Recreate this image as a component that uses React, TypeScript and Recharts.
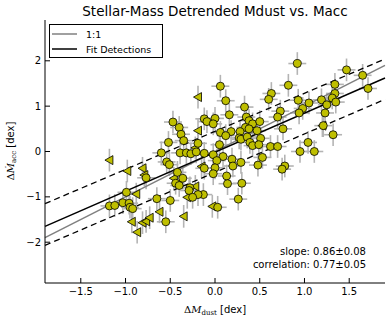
import React from "react";
import { ScatterChart, Scatter, XAxis, YAxis, ErrorBar, ReferenceLine } from "recharts";

// detections: dust mass offset vs accretion rate offset (dex)
const detX = [
  0.92, 1.47, 1.65, 1.71, 0.06, 0.82, 0.63, 0.6, 1.34, 1.34, 1.31, 1.19, 1.25, 1.35, 0.93, 1.05, 0.98, 0.94,
  1.23, 0.73, 0.7, 0.12, 0.16, 0.33, -0.12, -0.09, 0.0, -0.02, 0.35, 0.38, 0.42, 0.5, 0.34, 0.38, 0.47, 0.28,
  0.18, 0.06, 0.76, 1.21, 1.32, 0.27, 0.29, 0.36, 0.51, 0.39, 0.42, 0.49, 0.62, 0.7, 0.12, 0.05, 1.04, 0.95,
  1.11, -0.12, -0.02, 0.09, 0.19, 0.29, 0.53, 0.48, 0.78, 0.75, 0.02, 0.2, 0.0, -0.12, -0.02, 0.13, 0.14, 0.3,
  -0.13, 0.26, 0.03, -0.47, -0.4, -0.38, -0.35, -0.52, -0.19, -0.6, -0.54, -0.51, -0.39, -0.32, -0.27, -0.21,
  -0.42, -0.44, -0.4, -0.28, -0.29, -0.19, -0.5, -0.65, -0.77, -0.55, -0.99, -1.18, -1.12, -1.03, -0.96, -0.95,
  -0.92, -0.36, -0.25,
];
const detY = [
  1.94, 1.8, 1.68, 1.39, 1.44, 1.46, 1.28, 1.15, 1.48, 1.28, 1.18, 1.14, 1.03, 1.09, 1.13, 1.07, 0.95, 0.85,
  0.85, 0.89, 0.76, 1.12, 0.81, 0.98, 0.72, 0.66, 0.73, 0.61, 0.76, 0.68, 0.61, 0.66, 0.53, 0.5, 0.46, 0.44,
  0.44, 0.42, 0.5, 0.57, 0.37, 0.3, 0.27, 0.32, 0.29, 0.2, 0.13, 0.15, 0.11, 0.11, 0.35, 0.15, 0.2, 0.0,
  0.0, -0.04, -0.07, -0.11, -0.17, -0.24, -0.13, -0.3, -0.32, -0.39, -0.2, -0.32, -0.36, -0.37, -0.49, -0.54, -0.71, -0.7,
  -0.95, -1.05, -1.23, 0.65, 0.53, 0.38, 0.24, 0.2, 0.18, -0.03, -0.23, -0.29, -0.03, -0.03, -0.05, -0.01,
  -0.46, -0.7, -0.75, -0.8, -0.86, -0.95, -1.08, -1.04, -0.58, -1.55, -0.9, -1.2, -1.19, -1.13, -1.14, -1.23,
  -1.26, -0.59, -1.01,
];

// upper limits in dust mass (left-pointing triangles)
const limX = [
  -0.19, -0.19, -0.22, -1.18, -0.98, -0.81, -0.79, -0.88, -0.62, -0.35, -0.93, -0.81, -0.77, -0.73, -0.87,
  -0.31, -0.03, -0.15, -0.46, 1.2, -0.22,
];
const limY = [
  1.2, 0.46, 0.08, -0.19, -0.43, -0.37, -0.52, -0.94, -1.33, -1.43, -1.55, -1.57, -1.54, -1.46, -1.78,
  -1.01, -1.21, -0.33, -0.59, 0.57, -0.77,
];

const errX = 0.1;
const errY = 0.25;

const xTicks = [-1.5, -1, -0.5, 0, 0.5, 1, 1.5];
const yTicks = [-2, -1, 0, 1, 2];

// lines, y at the left and right edges of the plot
const edgeX = [-1.9, 1.9];
const oneToOne = [-1.9, 1.9];
const fitLine = [-1.65, 1.62];
const fitUpper = [-1.15, 2.04];
const fitLower = [-2.07, 1.15];

const detections = detX.map((x, i) => ({ x, y: detY[i], ex: errX, ey: errY }));
const limits = limX.map((x, i) => ({ x, y: limY[i], ey: errY }));

const YELLOW = "#bfbf00";
const FONT = "DejaVu Sans";
const SERIF = "DejaVu Serif";

const fmtX = (v: number) => v.toFixed(1).replace("-", "\u2212");
const fmtY = (v: number) => String(v).replace("-", "\u2212");

const Dot = (p: any) => (
  <circle cx={p.cx} cy={p.cy} r={4} fill={YELLOW} stroke="#000" strokeWidth={0.8} />
);

const LeftTri = (p: any) => (
  <polygon
    points={`${p.cx - 4.5},${p.cy} ${p.cx + 3.5},${p.cy - 4.5} ${p.cx + 3.5},${p.cy + 4.5}`}
    fill={YELLOW}
    stroke="#000"
    strokeWidth={0.8}
  />
);

const seg = (ys: number[]) => [
  { x: edgeX[0], y: ys[0] },
  { x: edgeX[1], y: ys[1] },
];

const tickStyle = { fontSize: 10, fill: "#000", fontFamily: FONT };

export default function App() {
  return (
    <div style={{ position: "absolute", left: 0, top: 0, width: 390, height: 321, background: "#fff" }}>
      <ScatterChart width={390} height={321} margin={{ top: 20, right: 5, bottom: 0, left: 0 }}>
        <XAxis
          type="number"
          dataKey="x"
          domain={[-1.9, 1.9]}
          allowDataOverflow
          ticks={xTicks}
          tickFormatter={fmtX}
          height={38}
          tickSize={-5}
          tickMargin={10}
          tick={tickStyle}
          axisLine={{ stroke: "#000" }}
          tickLine={{ stroke: "#000" }}
        />
        <XAxis
          xAxisId="top"
          orientation="top"
          type="number"
          domain={[-1.9, 1.9]}
          allowDataOverflow
          ticks={xTicks}
          height={0}
          tickSize={-5}
          tick={() => <g />}
          axisLine={{ stroke: "#000" }}
          tickLine={{ stroke: "#000" }}
        />
        <YAxis
          type="number"
          dataKey="y"
          domain={[-2.9, 2.9]}
          allowDataOverflow
          ticks={yTicks}
          tickFormatter={fmtY}
          width={45}
          tickSize={-5}
          tickMargin={9}
          tick={tickStyle}
          axisLine={{ stroke: "#000" }}
          tickLine={{ stroke: "#000" }}
        />
        <YAxis
          yAxisId="right"
          orientation="right"
          type="number"
          domain={[-2.9, 2.9]}
          allowDataOverflow
          ticks={yTicks}
          width={0}
          tickSize={-5}
          tick={() => <g />}
          axisLine={{ stroke: "#000" }}
          tickLine={{ stroke: "#000" }}
        />
        <Scatter data={limits} shape={LeftTri} isAnimationActive={false}>
          <ErrorBar dataKey="ey" direction="y" width={0} stroke="#b4b4b4" strokeWidth={1.6} isAnimationActive={false} />
        </Scatter>
        <Scatter data={detections} shape={Dot} isAnimationActive={false}>
          <ErrorBar dataKey="ex" direction="x" width={0} stroke="#b4b4b4" strokeWidth={1.6} isAnimationActive={false} />
          <ErrorBar dataKey="ey" direction="y" width={0} stroke="#b4b4b4" strokeWidth={1.6} isAnimationActive={false} />
        </Scatter>
        <ReferenceLine segment={seg(oneToOne)} stroke="#808080" strokeWidth={1.5} />
        <ReferenceLine segment={seg(fitLine)} stroke="#000" strokeWidth={1.5} />
        <ReferenceLine segment={seg(fitUpper)} stroke="#000" strokeWidth={1.3} strokeDasharray="6 4" />
        <ReferenceLine segment={seg(fitLower)} stroke="#000" strokeWidth={1.3} strokeDasharray="6 4" />
      </ScatterChart>
      <svg
        width={390}
        height={321}
        style={{ position: "absolute", left: 0, top: 0, pointerEvents: "none" }}
        fontFamily={FONT}
      >
        <text x={215} y={16} textAnchor="middle" fontSize={13.5} fill="#000">
          Stellar-Mass Detrended Mdust vs. Macc
        </text>
        <g>
          <rect x={49.5} y={24.5} width={113} height={33} fill="#fff" stroke="#000" strokeWidth={1} />
          <line x1={52} y1={34} x2={77} y2={34} stroke="#808080" strokeWidth={1.5} />
          <line x1={52} y1={49} x2={77} y2={49} stroke="#000" strokeWidth={1.5} />
          <text x={86} y={37.5} fontSize={9.5} fill="#000">1:1</text>
          <text x={86} y={52.5} fontSize={9.5} fill="#000">Fit Detections</text>
        </g>
        <text x={366} y={255} textAnchor="end" fontSize={10} fill="#000">slope: 0.86±0.08</text>
        <text x={366} y={268} textAnchor="end" fontSize={10} fill="#000">correlation: 0.77±0.05</text>
        <text x={215} y={313} textAnchor="middle" fontSize={10} fill="#000">
          <tspan fontFamily={SERIF}>Δ</tspan>
          <tspan fontFamily={SERIF} fontStyle="italic">M</tspan>
          <tspan fontFamily={SERIF} fontSize={7} dy={2}>dust</tspan>
          <tspan dy={-2}> [dex]</tspan>
        </text>
        <text x={14} y={151} textAnchor="middle" fontSize={10} fill="#000" transform="rotate(-90 14 151)">
          <tspan fontFamily={SERIF}>Δ</tspan>
          <tspan fontFamily={SERIF} fontStyle="italic">Ṁ</tspan>
          <tspan fontFamily={SERIF} fontSize={7} dy={2}>acc</tspan>
          <tspan dy={-2}> [dex]</tspan>
        </text>
      </svg>
    </div>
  );
}
